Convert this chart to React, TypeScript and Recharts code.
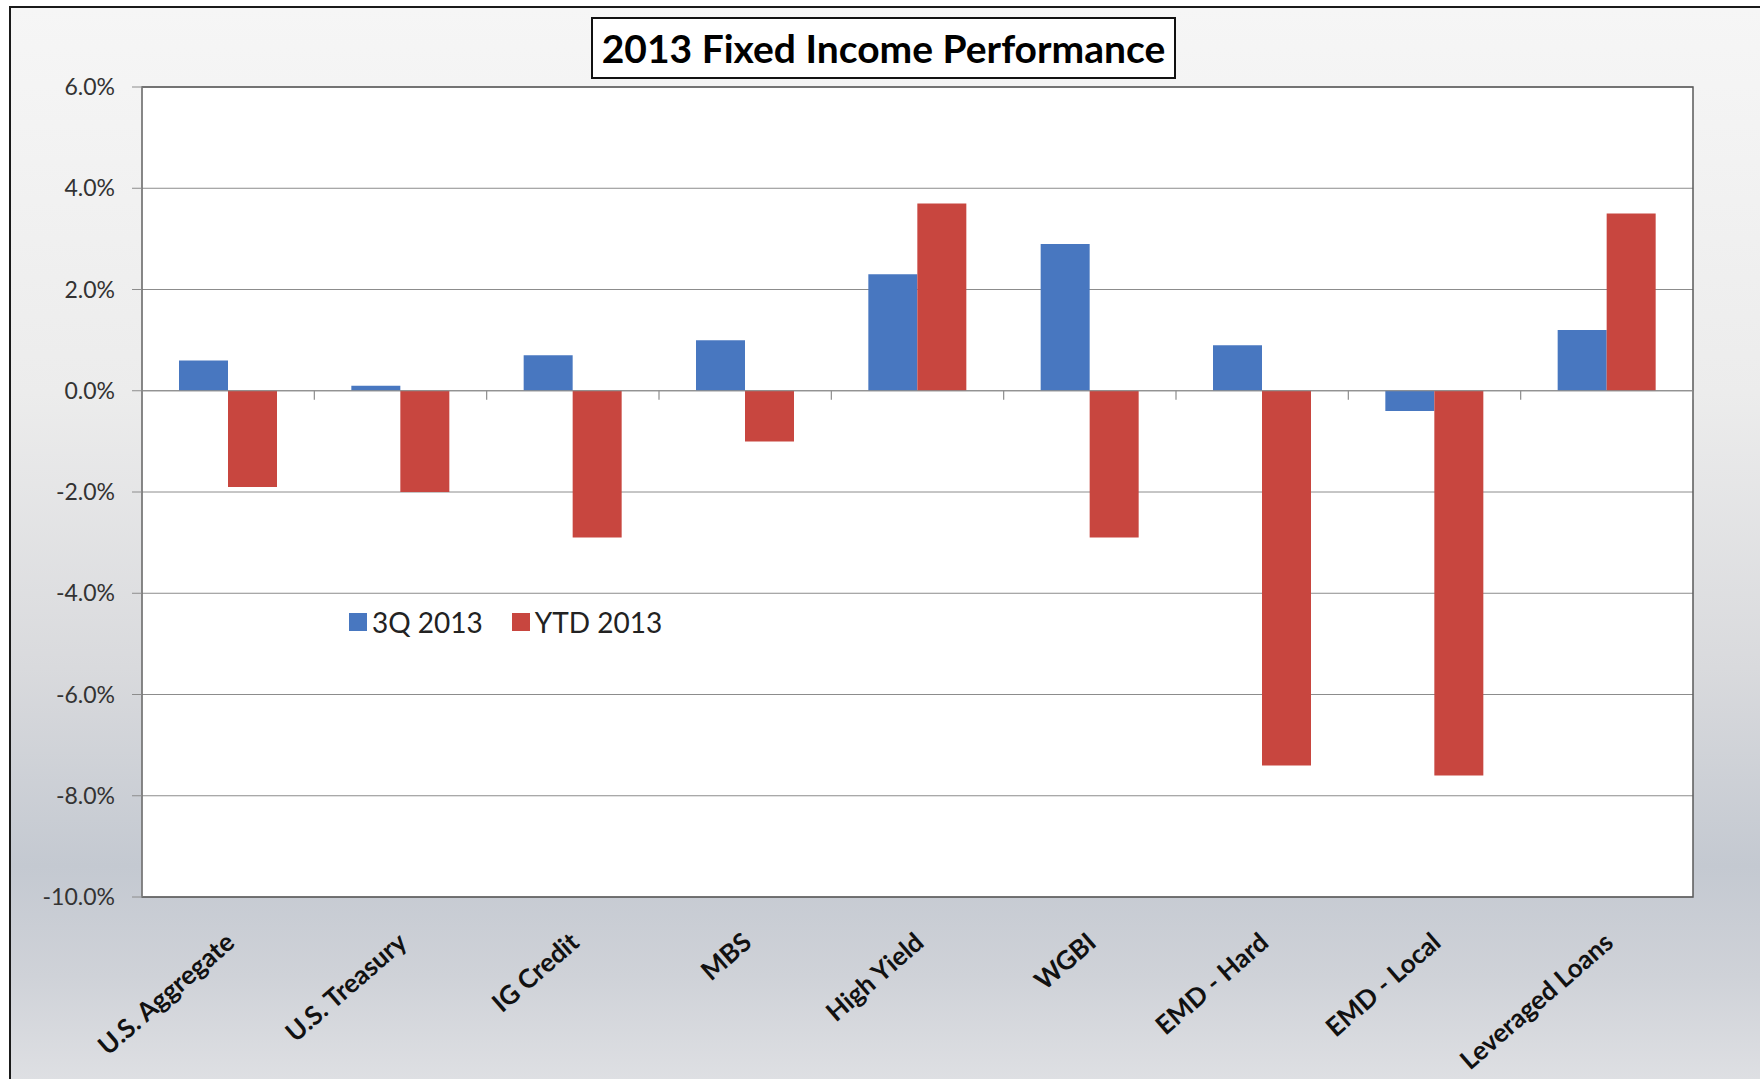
import React from "react";
import {
  BarChart,
  Bar,
  XAxis,
  YAxis,
  CartesianGrid,
  ReferenceLine,
  ReferenceArea,
  Legend,
} from "recharts";

const categories = [
  "U.S. Aggregate",
  "U.S. Treasury",
  "IG Credit",
  "MBS",
  "High Yield",
  "WGBI",
  "EMD - Hard",
  "EMD - Local",
  "Leveraged Loans",
];
const q3 = [0.6, 0.1, 0.7, 1.0, 2.3, 2.9, 0.9, -0.4, 1.2];
const ytd = [-1.9, -2.0, -2.9, -1.0, 3.7, -2.9, -7.4, -7.6, 3.5];
const yTicks = [-10, -8, -6, -4, -2, 0, 2, 4, 6];

const BLUE = "#4877c0";
const RED = "#c8463f";
const FONT = "Lato, 'Open Sans', sans-serif";

const data = categories.map((name, i) => ({ name, q3: q3[i], ytd: ytd[i] }));

// x labels sit at the bottom, rotated like Excel does it
const CategoryTick = (props: any) => {
  const { x, y, payload } = props;
  return (
    <text
      x={x + 8}
      y={y + 40}
      transform={`rotate(-41, ${x + 8}, ${y + 40})`}
      textAnchor="end"
      fontFamily={FONT}
      fontWeight={700}
      fontSize={26}
      fill="#111"
    >
      {payload.value}
    </text>
  );
};

// zero line with the little category tick marks hanging below it
const ZeroLine = (props: any) => {
  const { x1, x2, y1 } = props;
  if (x1 == null) return null;
  const n = categories.length;
  const step = (x2 - x1) / n;
  return (
    <g>
      <line x1={x1} y1={y1} x2={x2} y2={y1} stroke="#8c8c8c" strokeWidth={1.2} />
      {Array.from({ length: n + 1 }, (_, i) => (
        <line
          key={i}
          x1={x1 + i * step}
          x2={x1 + i * step}
          y1={y1}
          y2={y1 + 9}
          stroke="#8c8c8c"
          strokeWidth={1.2}
        />
      ))}
    </g>
  );
};

const LegendContent = () => (
  <div style={{ display: "flex", alignItems: "center", fontFamily: FONT, fontSize: 28, color: "#222" }}>
    <span style={{ width: 18, height: 18, background: BLUE, display: "inline-block", marginRight: 5 }} />
    <span style={{ marginRight: 29 }}>3Q 2013</span>
    <span style={{ width: 18, height: 18, background: RED, display: "inline-block", marginRight: 5 }} />
    <span>YTD 2013</span>
  </div>
);

export default function App() {
  return (
    <div
      style={{
        position: "absolute",
        left: 0,
        top: 0,
        width: 1760,
        height: 1079,
        overflow: "hidden",
        background: "#fff",
      }}
    >
      <div
        style={{
          position: "absolute",
          left: 9,
          top: 6,
          width: 1800,
          height: 1100,
          borderLeft: "2px solid #1a1a1a",
          borderTop: "2px solid #1a1a1a",
          background:
            "linear-gradient(180deg, #f6f6f6 0%, #ececec 35%, #d9dadd 60%, #c4c9d1 78%, #cfd2d8 88%, #e2e3e6 100%)",
        }}
      />
      <div style={{ position: "absolute", left: 0, top: 0 }}>
        <BarChart
          width={1760}
          height={1079}
          data={data}
          margin={{ top: 87, right: 67, bottom: 32, left: 82 }}
          barGap={0}
        >
          <CartesianGrid vertical={false} stroke="#8c8c8c" fill="#fff" />
          <ReferenceArea y1={-10} y2={6} fill="none" stroke="#5a5a5a" strokeWidth={1.5} />
          <XAxis
            dataKey="name"
            height={150}
            axisLine={false}
            tickLine={false}
            interval={0}
            tick={<CategoryTick />}
          />
          <YAxis
            width={60}
            domain={[-10, 6]}
            ticks={yTicks}
            interval={0}
            tickSize={10}
            tickMargin={17}
            axisLine={{ stroke: "#8c8c8c" }}
            tickLine={{ stroke: "#8c8c8c" }}
            tick={{ fontFamily: FONT, fontSize: 23, fill: "#333" }}
            tickFormatter={(v: number) => `${v.toFixed(1)}%`}
          />
          <ReferenceLine y={0} shape={<ZeroLine />} />
          <Legend
            layout="horizontal"
            verticalAlign="middle"
            align="center"
            content={<LegendContent />}
            wrapperStyle={{ left: 349, top: 605, width: "auto" }}
          />
          <Bar dataKey="q3" name="3Q 2013" fill={BLUE} barSize={49} isAnimationActive={false} />
          <Bar dataKey="ytd" name="YTD 2013" fill={RED} barSize={49} isAnimationActive={false} />
        </BarChart>
      </div>
      <div
        style={{
          position: "absolute",
          left: 591,
          top: 17,
          width: 585,
          height: 62,
          boxSizing: "border-box",
          border: "2px solid #111",
          background: "#fff",
          display: "flex",
          alignItems: "center",
          justifyContent: "center",
          fontFamily: FONT,
          fontWeight: 700,
          fontSize: 39,
          color: "#000",
        }}
      >
        2013 Fixed Income Performance
      </div>
    </div>
  );
}
